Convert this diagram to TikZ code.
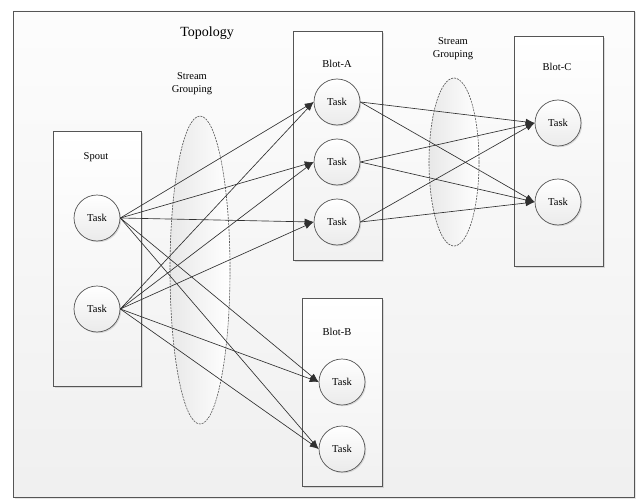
\documentclass[tikz,border=0pt]{standalone}
\usepackage{fontspec}
\setmainfont{Liberation Serif}
\usetikzlibrary{arrows.meta,shadows,positioning}
\definecolor{Frame}{HTML}{555555}
\definecolor{Line}{HTML}{303030}
\tikzset{
  topo/.style={draw=Frame,line width=.8pt,top color=gray!2,bottom color=gray!12,
    drop shadow={shadow xshift=1.5pt,shadow yshift=-1.5pt,opacity=.2}},
  group/.style={draw=Frame,line width=.8pt,top color=white,bottom color=gray!11,
    inner sep=0pt,anchor=north west,
    drop shadow={shadow xshift=1.5pt,shadow yshift=-1.5pt,opacity=.25}},
  task/.style={circle,draw=Frame,line width=.7pt,minimum size=46pt,inner sep=0pt,
    top color=white,bottom color=gray!16,font=\fontsize{10.5}{12}\selectfont,
    drop shadow={shadow xshift=1.2pt,shadow yshift=-1.2pt,opacity=.25}},
  grouping/.style={draw=Frame,line width=.6pt,dashed,dash pattern=on 2pt off 1pt,
    left color=gray!18,right color=white},
  label/.style={align=center,font=\fontsize{10.5}{13}\selectfont},
  arrow/.style={-{Latex[length=9pt,width=6.5pt]},draw=Line,line width=.65pt}
}

\begin{document}
\begin{tikzpicture}[x=1pt,y=-1pt]
    \useasboundingbox (0,0) rectangle (640,503);
    \fill[white] (0,0) rectangle (640,503);
    \draw[topo] (13,11) rectangle (634,497);
    \node[font=\fontsize{14}{16}\selectfont] (title) at (207,33) {Topology};

    % groupings
    \draw[grouping] (200,270) ellipse [x radius=30pt,y radius=154pt];
    \draw[grouping] (454,162) ellipse [x radius=25pt,y radius=84pt];
    \node[label] (sg1) at (192,84) {Stream\\Grouping};
    \node[label] (sg2) at (453,49) {Stream\\Grouping};

    % components
    \node[group,minimum width=88pt,minimum height=255pt] (spout) at (53,131) {};
    \node[group,minimum width=89pt,minimum height=229pt] (blota) at (293,31) {};
    \node[group,minimum width=80pt,minimum height=188pt] (blotb) at (302,298) {};
    \node[group,minimum width=89pt,minimum height=230pt] (blotc) at (514,36) {};
    \node[label] (lspout) at (96,157) {Spout};
    \node[label] (lblota) at (337,64) {Blot-A};
    \node[label] (lblotb) at (337,332) {Blot-B};
    \node[label] (lblotc) at (557,67) {Blot-C};

    % tasks
    \node[task] (s1) at (97,218) {Task};
    \node[task] (s2) at (97,309) {Task};
    \node[task] (a1) at (337,102) {Task};
    \node[task] (a2) at (337,162) {Task};
    \node[task] (a3) at (337,222) {Task};
    \node[task] (b1) at (342,382) {Task};
    \node[task] (b2) at (342,449) {Task};
    \node[task] (c1) at (558,123) {Task};
    \node[task] (c2) at (558,202) {Task};

    % streams
    \draw[arrow] (s1.east)--(a1.west); \draw[arrow] (s1.east)--(a2.west); \draw[arrow] (s1.east)--(a3.west);
    \draw[arrow] (s1.east)--(b1.west); \draw[arrow] (s1.east)--(b2.west);
    \draw[arrow] (s2.east)--(a1.west); \draw[arrow] (s2.east)--(a2.west); \draw[arrow] (s2.east)--(a3.west);
    \draw[arrow] (s2.east)--(b1.west); \draw[arrow] (s2.east)--(b2.west);
    \draw[arrow] (a1.east)--(c1.west); \draw[arrow] (a1.east)--(c2.west);
    \draw[arrow] (a2.east)--(c1.west); \draw[arrow] (a2.east)--(c2.west);
    \draw[arrow] (a3.east)--(c1.west); \draw[arrow] (a3.east)--(c2.west);
  \end{tikzpicture}
\end{document}
